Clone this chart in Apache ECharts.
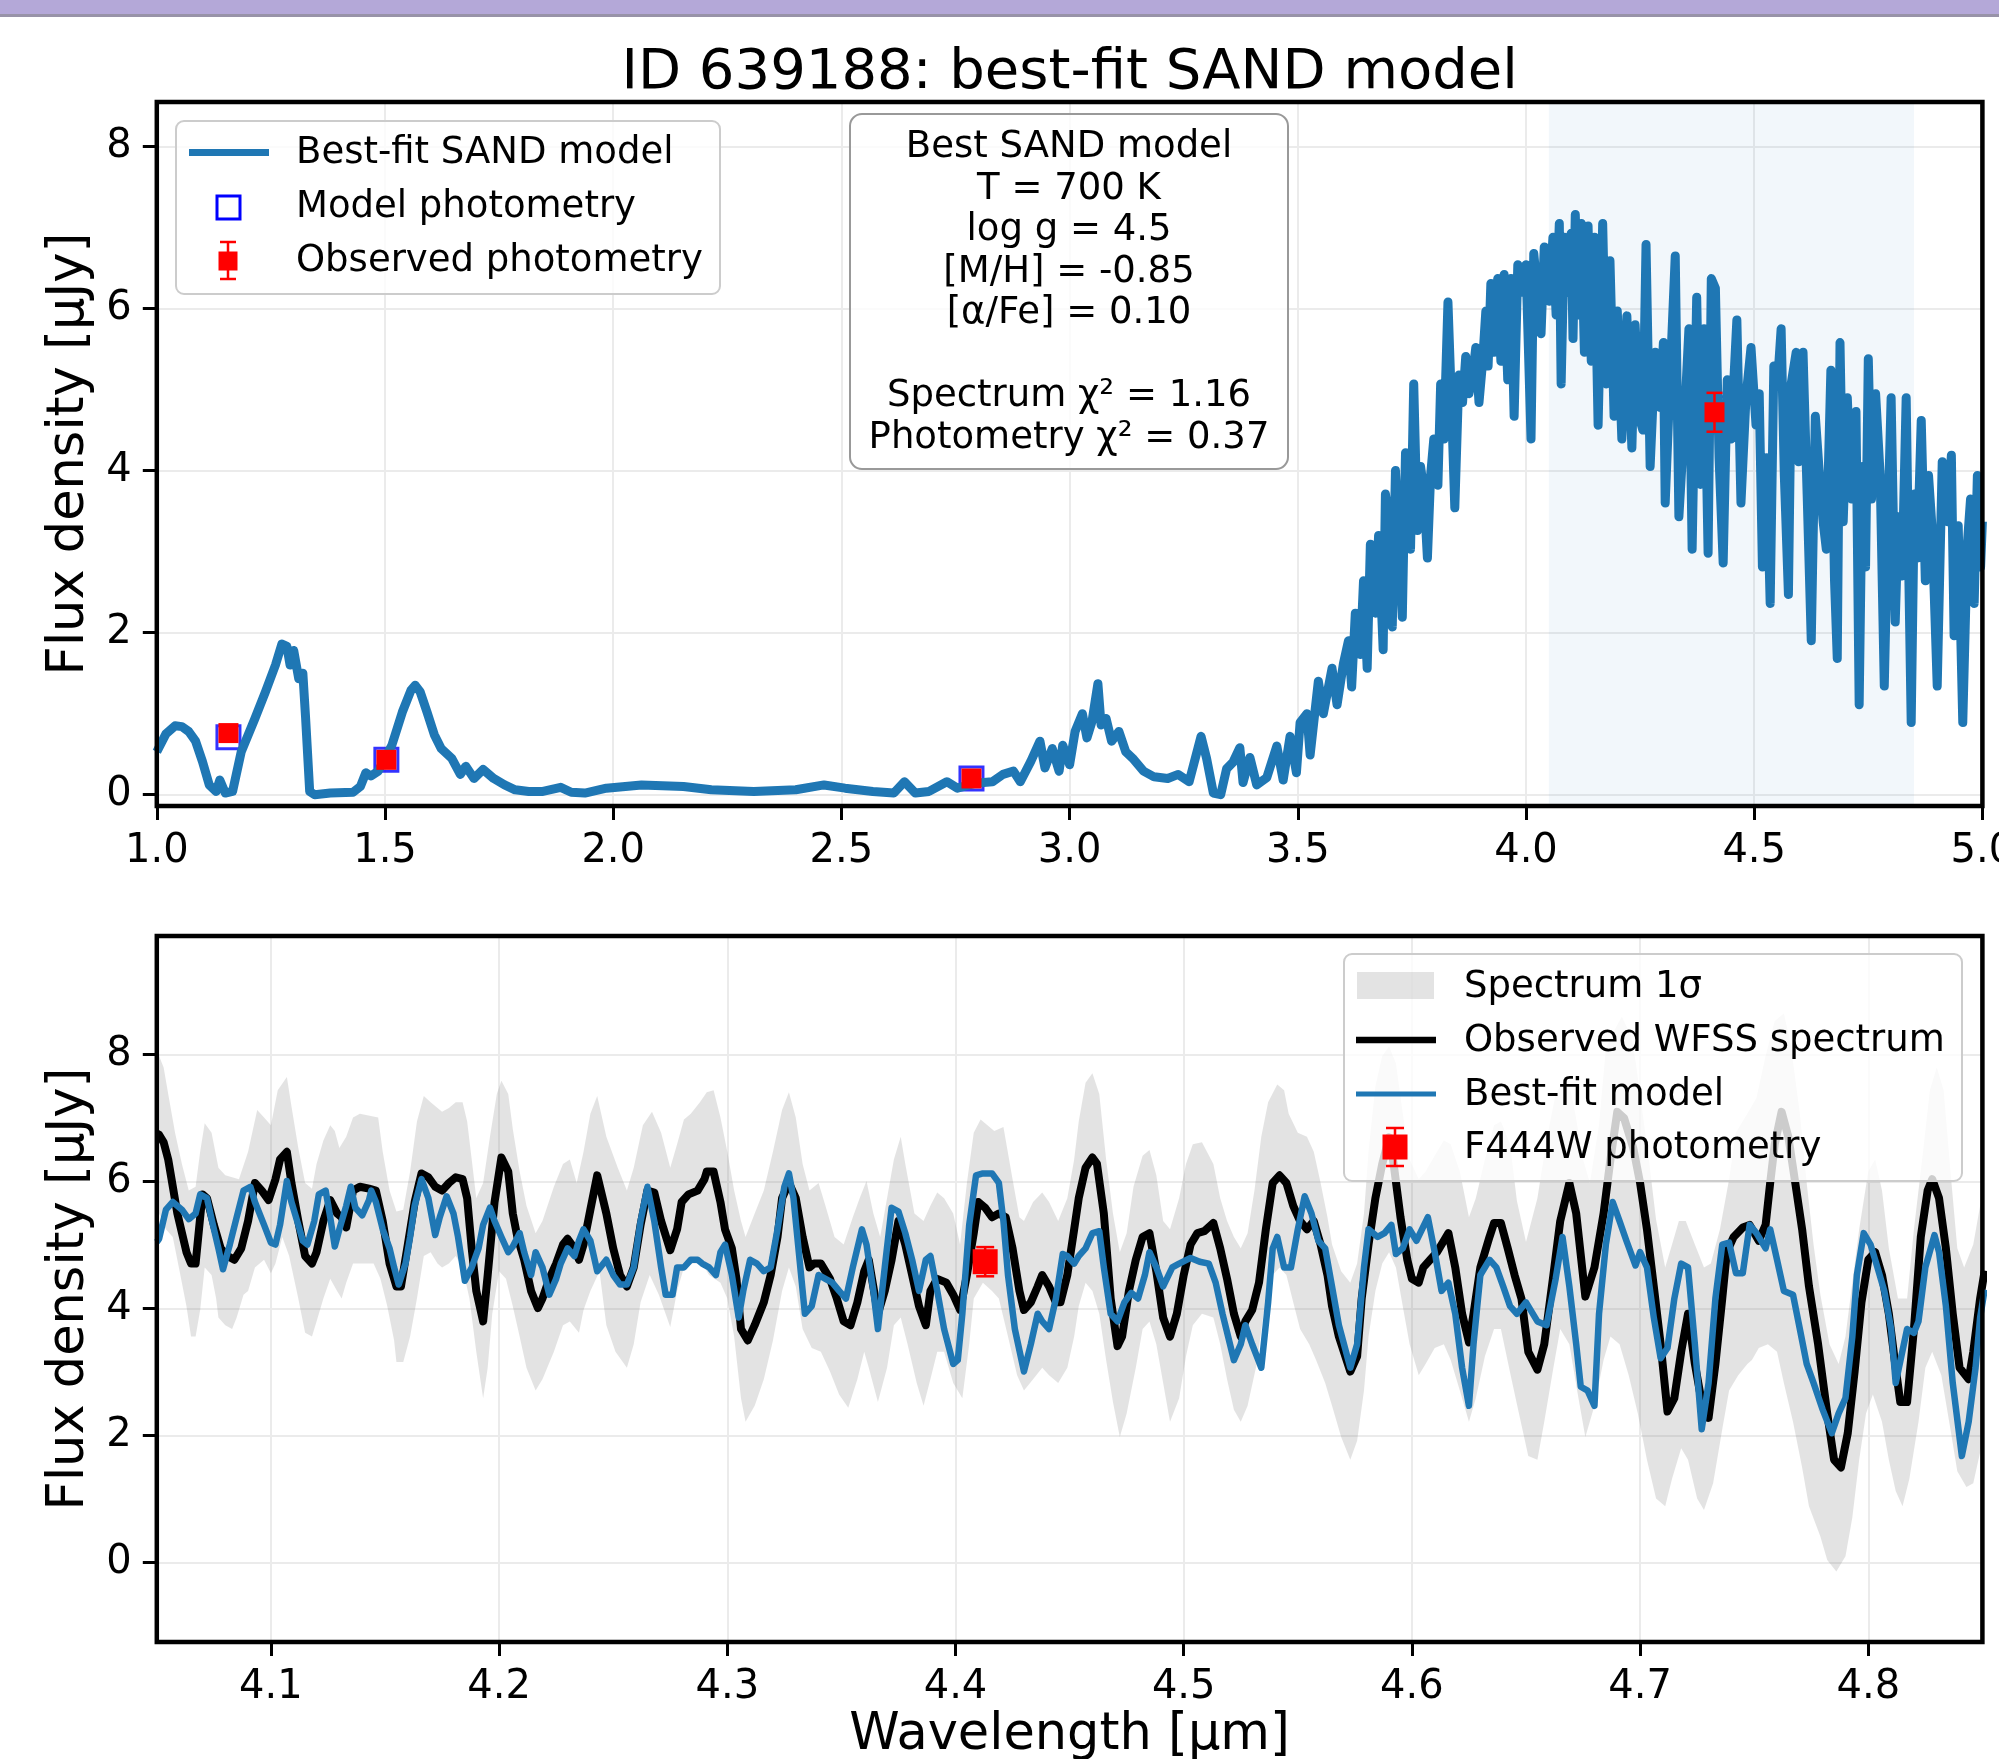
<!DOCTYPE html>
<html>
<head>
<meta charset="utf-8">
<title>ID 639188: best-fit SAND model</title>
<script src="https://cdn.jsdelivr.net/npm/echarts@6.0.0/dist/echarts.min.js"></script>
<style>
  html, body { margin: 0; padding: 0; background: #fff; }
  #chart { width: 1999px; height: 1759px; }
</style>
</head>
<body>
<div id="chart"></div>
<script>
// ---- data ----
// top panel: best-fit SAND model spectrum [wavelength um, flux uJy]
var sandModel = [
  [1.000,0.53],[1.020,0.75],[1.040,0.85],[1.055,0.84],[1.070,0.78],[1.085,0.66],[1.100,0.41],[1.115,0.12],[1.130,0.04],[1.138,0.18],
  [1.150,0.02],[1.166,0.04],[1.185,0.53],[1.215,0.94],[1.238,1.27],[1.260,1.60],[1.274,1.86],[1.285,1.83],[1.292,1.60],[1.300,1.78],
  [1.311,1.43],[1.320,1.50],[1.326,0.95],[1.335,0.04],[1.346,0.00],[1.380,0.02],[1.430,0.03],[1.446,0.10],[1.458,0.27],[1.469,0.23],
  [1.485,0.29],[1.515,0.61],[1.538,1.02],[1.557,1.29],[1.566,1.35],[1.577,1.27],[1.592,1.02],[1.608,0.74],[1.623,0.57],[1.646,0.45],
  [1.665,0.25],[1.677,0.35],[1.695,0.20],[1.715,0.31],[1.738,0.20],[1.762,0.12],[1.785,0.06],[1.815,0.04],[1.846,0.04],[1.885,0.09],
  [1.908,0.03],[1.938,0.02],[1.985,0.08],[2.062,0.12],[2.154,0.10],[2.215,0.06],[2.308,0.04],[2.400,0.06],[2.462,0.12],[2.508,0.08],
  [2.569,0.04],[2.615,0.02],[2.638,0.16],[2.662,0.02],[2.692,0.04],[2.731,0.16],[2.754,0.08],[2.792,0.14],[2.831,0.16],[2.854,0.25],
  [2.877,0.29],[2.892,0.16],[2.915,0.41],[2.935,0.66],[2.946,0.33],[2.962,0.57],[2.977,0.29],[2.985,0.61],[3.000,0.37],[3.012,0.78],
  [3.028,1.00],[3.038,0.70],[3.049,0.90],[3.062,1.37],[3.069,0.86],[3.080,0.94],[3.092,0.66],[3.108,0.78],[3.123,0.53],[3.138,0.45],
  [3.162,0.29],[3.185,0.22],[3.215,0.20],[3.238,0.25],[3.262,0.16],[3.288,0.72],[3.300,0.45],[3.315,0.02],[3.331,0.00],[3.344,0.32],
  [3.358,0.40],[3.373,0.58],[3.380,0.15],[3.395,0.46],[3.410,0.12],[3.432,0.21],[3.454,0.60],[3.468,0.18],[3.483,0.72],[3.497,0.27],
  [3.505,0.89],[3.520,1.00],[3.527,0.49],[3.545,1.40],[3.556,1.00],[3.575,1.56],[3.586,1.11],[3.600,1.62],[3.611,1.90],[3.618,1.33],
  [3.626,2.24],[3.637,1.73],[3.644,2.64],[3.652,1.56],[3.659,3.09],[3.670,2.24],[3.677,3.20],[3.687,1.79],[3.692,3.71],[3.700,3.37],
  [3.707,2.07],[3.714,4.00],[3.721,3.15],[3.729,2.19],[3.736,4.22],[3.743,3.65],[3.747,3.03],[3.754,5.07],[3.762,3.26],[3.769,4.05],
  [3.776,3.76],[3.784,2.92],[3.791,3.94],[3.798,4.39],[3.807,3.82],[3.813,5.07],[3.820,4.39],[3.829,6.08],[3.836,4.95],[3.844,3.54],
  [3.853,5.18],[3.861,4.84],[3.868,5.41],[3.875,4.95],[3.883,5.18],[3.890,5.52],[3.897,4.84],[3.905,5.35],[3.912,5.97],[3.917,5.29],
  [3.923,6.31],[3.930,5.46],[3.938,6.37],[3.945,5.35],[3.952,6.42],[3.960,5.12],[3.967,6.37],[3.974,4.67],[3.982,6.54],[3.993,6.20],
  [4.000,6.54],[4.011,4.39],[4.017,6.68],[4.026,6.14],[4.033,5.69],[4.040,6.76],[4.051,6.09],[4.059,6.88],[4.066,5.92],[4.073,7.05],
  [4.077,5.07],[4.084,6.88],[4.092,6.20],[4.099,6.93],[4.103,5.63],[4.108,7.16],[4.114,5.92],[4.121,7.05],[4.128,5.46],[4.136,7.02],
  [4.143,5.35],[4.150,6.88],[4.158,4.56],[4.168,7.05],[4.176,5.07],[4.184,6.59],[4.193,4.67],[4.200,5.97],[4.210,4.39],[4.221,5.91],
  [4.232,4.28],[4.239,5.80],[4.250,4.62],[4.256,4.50],[4.263,6.79],[4.272,4.05],[4.283,5.46],[4.294,4.78],[4.301,5.58],[4.305,3.60],
  [4.316,5.18],[4.327,6.65],[4.335,3.43],[4.346,4.50],[4.357,5.75],[4.364,3.03],[4.374,6.14],[4.382,3.83],[4.390,5.75],[4.399,2.98],
  [4.406,6.37],[4.415,6.25],[4.423,4.16],[4.432,2.86],[4.441,5.12],[4.449,4.39],[4.462,5.86],[4.471,3.60],[4.482,4.90],[4.493,5.52],
  [4.504,4.56],[4.511,4.95],[4.518,2.81],[4.527,4.16],[4.535,2.36],[4.543,5.29],[4.551,5.07],[4.559,5.75],[4.566,3.94],[4.575,2.47],
  [4.581,5.07],[4.592,5.46],[4.597,4.11],[4.607,5.46],[4.616,3.71],[4.625,1.90],[4.634,4.67],[4.643,3.94],[4.651,3.37],[4.658,3.03],
  [4.668,5.24],[4.676,2.64],[4.682,1.68],[4.688,5.58],[4.695,3.37],[4.704,4.90],[4.713,3.65],[4.723,4.73],[4.730,1.11],[4.737,4.05],
  [4.744,2.81],[4.750,5.38],[4.757,3.65],[4.766,4.95],[4.776,3.94],[4.785,1.34],[4.793,3.37],[4.800,4.90],[4.809,2.13],[4.816,3.43],
  [4.824,2.70],[4.833,4.90],[4.838,2.98],[4.844,0.89],[4.851,3.71],[4.857,2.92],[4.866,4.62],[4.875,2.64],[4.882,3.94],[4.890,3.26],
  [4.901,1.34],[4.912,4.11],[4.923,3.37],[4.932,4.19],[4.938,1.96],[4.947,3.32],[4.957,0.89],[4.967,3.09],[4.974,3.65],[4.982,2.36],
  [4.989,3.94],[4.996,2.81],[5.000,3.37]
];

// photometry (top panel)
var photWave  = [1.157, 1.503, 2.785, 4.413];
var photModel = [0.71, 0.43, 0.20, 4.77];
var photObs   = [0.76, 0.43, 0.20, 4.72];
var photErr   = [0.05, 0.04, 0.03, 0.24];

// fitted window shown in the zoom panel
var fitWindow = [4.05, 4.85];

// bottom panel: observed WFSS spectrum
var obsSpec = [
  [4.050,6.76],[4.051,6.74],[4.053,6.62],[4.055,6.35],[4.059,5.50],[4.063,4.89],[4.065,4.71],[4.067,4.71],[4.070,5.80],[4.072,5.74],
  [4.075,5.32],[4.078,4.95],[4.081,4.83],[4.084,4.77],[4.087,4.95],[4.090,5.38],[4.093,5.98],[4.096,5.86],[4.099,5.71],[4.102,6.04],
  [4.104,6.35],[4.107,6.47],[4.109,5.98],[4.112,5.38],[4.115,4.83],[4.118,4.71],[4.120,4.89],[4.123,5.38],[4.126,5.71],[4.129,5.50],
  [4.131,5.44],[4.133,5.28],[4.136,5.86],[4.139,5.92],[4.143,5.89],[4.146,5.86],[4.149,5.38],[4.152,4.71],[4.155,4.35],[4.157,4.35],
  [4.160,5.01],[4.163,5.68],[4.166,6.13],[4.169,6.07],[4.172,5.92],[4.175,5.86],[4.178,5.98],[4.181,6.07],[4.184,6.04],[4.186,5.74],
  [4.188,4.95],[4.190,4.28],[4.193,3.80],[4.195,4.53],[4.198,5.68],[4.201,6.38],[4.204,6.16],[4.206,5.50],[4.208,5.13],[4.211,4.77],
  [4.214,4.28],[4.217,4.01],[4.219,4.16],[4.222,4.47],[4.225,4.71],[4.228,5.01],[4.230,5.10],[4.233,4.95],[4.235,4.77],[4.237,5.01],
  [4.240,5.56],[4.243,6.10],[4.247,5.50],[4.250,4.95],[4.253,4.53],[4.256,4.35],[4.259,4.65],[4.262,5.32],[4.265,5.86],[4.268,5.83],
  [4.271,5.38],[4.275,4.92],[4.278,5.25],[4.280,5.68],[4.283,5.80],[4.287,5.86],[4.290,6.04],[4.291,6.16],[4.294,6.16],[4.297,5.68],
  [4.299,5.25],[4.302,4.95],[4.304,4.47],[4.306,3.68],[4.309,3.50],[4.312,3.74],[4.316,4.10],[4.319,4.53],[4.322,5.13],[4.324,5.74],
  [4.327,5.98],[4.330,5.74],[4.333,5.13],[4.336,4.65],[4.338,4.71],[4.341,4.71],[4.345,4.47],[4.348,4.16],[4.351,3.80],[4.354,3.74],
  [4.357,4.10],[4.360,4.59],[4.362,4.77],[4.366,3.92],[4.369,4.28],[4.372,4.77],[4.375,5.38],[4.378,5.01],[4.381,4.53],[4.384,4.04],
  [4.387,3.74],[4.389,4.28],[4.392,4.47],[4.396,4.41],[4.399,4.22],[4.402,3.98],[4.405,4.53],[4.408,5.19],[4.410,5.68],[4.413,5.59],
  [4.416,5.44],[4.419,5.50],[4.422,5.44],[4.425,4.95],[4.428,4.28],[4.430,3.98],[4.433,4.10],[4.436,4.35],[4.438,4.53],[4.441,4.35],
  [4.444,4.10],[4.446,4.10],[4.449,4.53],[4.452,5.25],[4.454,5.74],[4.457,6.22],[4.460,6.38],[4.462,6.28],[4.465,5.50],[4.468,4.16],
  [4.471,3.41],[4.473,3.56],[4.476,4.28],[4.479,4.77],[4.482,5.13],[4.485,5.19],[4.488,4.59],[4.491,3.86],[4.494,3.56],[4.497,3.92],
  [4.500,4.53],[4.503,5.01],[4.506,5.19],[4.509,5.22],[4.513,5.35],[4.516,4.95],[4.519,4.47],[4.522,3.92],[4.525,3.56],[4.527,3.80],
  [4.530,3.98],[4.533,4.41],[4.536,5.25],[4.539,5.98],[4.542,6.10],[4.545,5.98],[4.548,5.62],[4.551,5.38],[4.554,5.25],[4.557,5.38],
  [4.560,5.01],[4.563,4.53],[4.565,4.04],[4.568,3.56],[4.573,3.01],[4.576,3.25],[4.578,4.16],[4.581,5.01],[4.584,5.74],[4.587,6.28],
  [4.590,6.70],[4.592,6.28],[4.595,5.44],[4.598,4.77],[4.600,4.47],[4.603,4.41],[4.605,4.65],[4.608,4.77],[4.611,4.89],[4.614,5.07],
  [4.616,5.19],[4.619,4.65],[4.622,3.92],[4.625,3.47],[4.627,3.92],[4.630,4.65],[4.634,5.13],[4.636,5.35],[4.639,5.35],[4.642,4.95],
  [4.645,4.53],[4.648,4.16],[4.651,3.32],[4.655,3.04],[4.658,3.44],[4.662,4.53],[4.665,5.38],[4.669,5.98],[4.672,5.50],[4.676,4.19],
  [4.680,4.65],[4.684,5.50],[4.687,6.35],[4.690,7.10],[4.693,7.00],[4.697,6.53],[4.700,5.98],[4.703,5.25],[4.706,4.35],[4.709,3.44],
  [4.712,2.38],[4.715,2.59],[4.718,3.32],[4.721,3.92],[4.724,3.13],[4.727,2.53],[4.730,2.28],[4.733,3.13],[4.736,4.16],[4.738,4.89],
  [4.741,5.13],[4.745,5.28],[4.748,5.32],[4.752,5.07],[4.755,5.32],[4.757,5.98],[4.759,6.59],[4.762,7.10],[4.765,6.70],[4.768,5.98],
  [4.771,5.25],[4.774,4.35],[4.778,3.44],[4.782,2.35],[4.785,1.62],[4.788,1.50],[4.791,2.04],[4.794,3.01],[4.797,4.10],[4.800,4.77],
  [4.803,4.89],[4.806,4.53],[4.809,3.92],[4.812,3.07],[4.814,2.53],[4.817,2.53],[4.820,3.68],[4.823,5.13],[4.826,5.86],[4.828,6.04],
  [4.831,5.74],[4.834,4.95],[4.837,3.92],[4.840,3.07],[4.844,2.89],[4.846,3.32],[4.849,4.16],[4.851,4.60]
];

// bottom panel: best-fit model resampled to the grism
var fitSpec = [
  [4.050,5.05],[4.051,5.10],[4.054,5.56],[4.057,5.68],[4.061,5.56],[4.064,5.41],[4.067,5.50],[4.069,5.80],[4.072,5.74],[4.074,5.41],
  [4.077,4.95],[4.079,4.62],[4.082,5.01],[4.085,5.44],[4.088,5.86],[4.091,5.92],[4.093,5.68],[4.097,5.32],[4.100,5.04],[4.102,5.01],
  [4.104,5.32],[4.107,6.01],[4.109,5.68],[4.112,5.32],[4.114,5.07],[4.116,5.01],[4.119,5.38],[4.121,5.80],[4.124,5.86],[4.126,5.44],
  [4.128,4.98],[4.130,5.25],[4.133,5.62],[4.135,5.92],[4.137,5.59],[4.140,5.47],[4.143,5.71],[4.144,5.86],[4.146,5.68],[4.149,5.25],
  [4.152,4.95],[4.154,4.65],[4.156,4.38],[4.159,4.71],[4.161,5.13],[4.163,5.62],[4.166,6.04],[4.169,5.74],[4.172,5.16],[4.174,5.44],
  [4.177,5.77],[4.180,5.50],[4.182,5.13],[4.185,4.44],[4.188,4.65],[4.191,4.95],[4.193,5.32],[4.196,5.59],[4.198,5.38],[4.201,5.13],
  [4.204,4.89],[4.206,4.98],[4.209,5.19],[4.211,4.89],[4.214,4.53],[4.216,4.89],[4.219,4.65],[4.222,4.22],[4.225,4.47],[4.227,4.71],
  [4.230,4.95],[4.233,4.83],[4.235,5.07],[4.237,5.25],[4.240,5.07],[4.243,4.59],[4.247,4.77],[4.250,4.53],[4.253,4.38],[4.256,4.38],
  [4.259,4.65],[4.262,5.38],[4.265,5.92],[4.268,5.38],[4.271,4.65],[4.273,4.22],[4.276,4.22],[4.278,4.65],[4.281,4.65],[4.284,4.77],
  [4.287,4.77],[4.289,4.71],[4.292,4.65],[4.295,4.53],[4.297,4.89],[4.299,5.01],[4.302,4.53],[4.305,3.86],[4.307,4.28],[4.310,4.77],
  [4.313,4.71],[4.316,4.59],[4.319,4.65],[4.322,5.25],[4.325,5.92],[4.327,6.13],[4.329,5.74],[4.332,4.65],[4.334,3.92],[4.337,4.04],
  [4.340,4.53],[4.343,4.47],[4.346,4.41],[4.349,4.28],[4.352,4.16],[4.355,4.65],[4.359,5.25],[4.361,5.01],[4.364,4.28],[4.366,3.68],
  [4.369,4.65],[4.372,5.59],[4.375,5.53],[4.378,5.19],[4.381,4.77],[4.384,4.28],[4.387,4.77],[4.389,4.83],[4.392,4.28],[4.395,3.68],
  [4.399,3.13],[4.401,3.19],[4.403,3.92],[4.406,5.32],[4.409,6.10],[4.412,6.13],[4.416,6.13],[4.419,5.98],[4.421,5.38],[4.423,4.53],
  [4.426,3.68],[4.430,3.01],[4.433,3.44],[4.436,3.92],[4.438,3.80],[4.441,3.68],[4.444,4.16],[4.447,4.86],[4.449,4.83],[4.452,4.71],
  [4.454,4.83],[4.457,4.95],[4.460,5.19],[4.463,5.22],[4.465,4.65],[4.468,3.92],[4.471,3.80],[4.474,4.10],[4.477,4.25],[4.480,4.16],
  [4.483,4.53],[4.485,4.89],[4.488,4.65],[4.491,4.35],[4.495,4.65],[4.498,4.71],[4.503,4.80],[4.507,4.74],[4.511,4.71],[4.514,4.41],
  [4.517,3.92],[4.522,3.19],[4.525,3.44],[4.527,3.74],[4.530,3.44],[4.534,3.07],[4.537,4.10],[4.539,4.95],[4.541,5.13],[4.544,4.65],
  [4.547,4.65],[4.550,5.25],[4.553,5.77],[4.556,5.50],[4.559,5.07],[4.562,4.95],[4.565,4.35],[4.568,3.74],[4.573,3.07],[4.576,3.44],
  [4.579,4.65],[4.581,5.25],[4.585,5.13],[4.588,5.19],[4.591,5.32],[4.593,4.86],[4.596,4.95],[4.599,5.25],[4.602,5.07],[4.607,5.44],
  [4.610,4.89],[4.613,4.28],[4.616,4.41],[4.619,3.92],[4.622,3.07],[4.625,2.47],[4.627,3.44],[4.630,4.53],[4.634,4.77],[4.637,4.65],
  [4.640,4.35],[4.643,4.04],[4.646,3.92],[4.650,4.10],[4.655,3.80],[4.659,3.74],[4.663,4.47],[4.666,5.13],[4.669,4.35],[4.672,3.44],
  [4.674,2.77],[4.677,2.71],[4.680,2.47],[4.682,3.92],[4.685,5.01],[4.688,5.68],[4.691,5.38],[4.694,5.07],[4.698,4.68],[4.700,4.89],
  [4.703,4.65],[4.706,3.86],[4.709,3.22],[4.712,3.38],[4.715,4.16],[4.718,4.71],[4.721,4.65],[4.724,3.44],[4.727,2.10],[4.730,2.83],
  [4.733,4.16],[4.736,5.01],[4.739,5.04],[4.742,4.56],[4.745,4.56],[4.748,5.32],[4.751,5.19],[4.755,4.95],[4.757,5.25],[4.760,4.77],
  [4.763,4.28],[4.767,4.22],[4.770,3.68],[4.773,3.13],[4.776,2.83],[4.780,2.41],[4.784,2.04],[4.787,2.35],[4.790,2.59],[4.793,3.56],
  [4.795,4.53],[4.798,5.19],[4.801,5.01],[4.804,4.65],[4.807,4.28],[4.810,3.68],[4.812,2.83],[4.817,3.68],[4.820,3.62],[4.822,3.80],
  [4.825,4.65],[4.829,5.16],[4.831,4.89],[4.834,4.04],[4.837,2.83],[4.841,1.68],[4.844,2.22],[4.847,3.07],[4.849,3.86],[4.851,4.30]
];

// bottom panel: 1-sigma envelope of the observed spectrum
var sigmaUpper = [
  [4.050,8.00],[4.051,7.98],[4.053,7.80],[4.055,7.38],[4.058,6.77],[4.061,6.28],[4.064,5.86],[4.067,5.92],[4.069,6.47],[4.071,6.92],
  [4.074,6.77],[4.077,6.22],[4.080,6.10],[4.086,6.04],[4.090,6.47],[4.094,7.13],[4.097,7.01],[4.100,6.89],[4.103,7.44],[4.107,7.65],
  [4.109,7.19],[4.112,6.53],[4.115,5.98],[4.118,5.89],[4.120,6.28],[4.123,6.65],[4.126,6.89],[4.128,6.80],[4.130,6.53],[4.133,6.71],
  [4.136,7.01],[4.139,7.07],[4.147,7.01],[4.149,6.47],[4.152,5.86],[4.155,5.53],[4.158,5.56],[4.161,6.16],[4.164,6.95],[4.167,7.35],
  [4.170,7.25],[4.175,7.10],[4.178,7.16],[4.181,7.25],[4.184,7.25],[4.186,6.95],[4.188,6.35],[4.190,5.74],[4.193,5.98],[4.196,6.71],
  [4.199,7.38],[4.201,7.59],[4.204,7.38],[4.206,6.83],[4.209,6.16],[4.212,5.62],[4.216,5.19],[4.219,5.38],[4.224,5.92],[4.228,6.28],
  [4.231,6.35],[4.234,5.98],[4.237,6.47],[4.240,7.07],[4.243,7.35],[4.247,6.71],[4.252,6.22],[4.256,5.86],[4.259,6.22],[4.263,6.89],
  [4.267,7.10],[4.271,6.77],[4.275,6.22],[4.278,6.59],[4.281,6.98],[4.284,7.07],[4.288,7.25],[4.291,7.41],[4.294,7.44],[4.297,7.01],
  [4.300,6.47],[4.303,5.86],[4.306,5.38],[4.308,5.13],[4.312,5.50],[4.316,5.86],[4.320,6.47],[4.324,7.13],[4.327,7.41],[4.330,7.01],
  [4.333,6.28],[4.336,5.86],[4.340,5.98],[4.343,5.62],[4.347,5.13],[4.351,5.01],[4.355,5.44],[4.358,5.74],[4.361,6.01],[4.364,5.50],
  [4.367,5.13],[4.370,5.74],[4.373,6.35],[4.376,6.71],[4.378,6.28],[4.382,5.50],[4.386,5.38],[4.389,5.62],[4.392,5.83],[4.395,5.74],
  [4.399,5.50],[4.402,5.01],[4.405,5.98],[4.408,6.77],[4.411,6.98],[4.414,6.89],[4.417,6.80],[4.421,6.86],[4.425,6.04],[4.428,5.44],
  [4.430,5.38],[4.434,5.68],[4.438,5.83],[4.441,5.68],[4.445,5.38],[4.449,5.74],[4.452,6.35],[4.454,6.95],[4.457,7.56],[4.460,7.71],
  [4.463,7.38],[4.466,6.35],[4.469,5.50],[4.472,4.89],[4.475,5.19],[4.478,5.92],[4.482,6.41],[4.485,6.50],[4.488,6.10],[4.491,5.38],
  [4.494,5.25],[4.498,5.74],[4.501,6.28],[4.504,6.59],[4.508,6.62],[4.513,6.28],[4.516,5.74],[4.519,5.38],[4.522,5.13],[4.525,4.95],
  [4.528,5.19],[4.531,5.86],[4.534,6.71],[4.537,7.25],[4.541,7.53],[4.544,7.44],[4.546,7.07],[4.550,6.77],[4.554,6.71],[4.557,6.47],
  [4.560,5.98],[4.563,5.44],[4.565,5.01],[4.569,4.59],[4.573,4.41],[4.576,4.71],[4.579,5.50],[4.581,6.47],[4.584,7.50],[4.587,7.98],
  [4.590,8.13],[4.593,7.86],[4.596,7.07],[4.599,6.35],[4.603,6.04],[4.606,6.16],[4.610,6.41],[4.614,6.65],[4.617,6.59],[4.621,6.16],
  [4.625,5.44],[4.628,5.74],[4.632,6.35],[4.636,6.89],[4.639,6.95],[4.643,6.59],[4.646,5.70],[4.650,5.05],[4.655,5.74],[4.659,6.65],
  [4.663,7.38],[4.668,7.68],[4.671,7.19],[4.675,6.35],[4.678,5.98],[4.682,6.89],[4.685,8.10],[4.689,8.40],[4.692,8.60],[4.696,8.30],
  [4.698,7.90],[4.701,7.10],[4.704,6.30],[4.707,5.40],[4.711,4.65],[4.714,5.01],[4.717,5.38],[4.720,5.38],[4.724,5.01],[4.728,4.65],
  [4.731,4.71],[4.735,5.25],[4.739,6.04],[4.742,6.77],[4.747,7.07],[4.751,7.32],[4.755,7.98],[4.759,8.53],[4.763,8.65],[4.766,8.16],
  [4.770,7.07],[4.773,5.98],[4.776,5.01],[4.779,4.22],[4.783,3.44],[4.787,3.13],[4.790,3.56],[4.793,4.41],[4.796,5.25],[4.800,6.16],
  [4.803,6.35],[4.806,5.86],[4.809,4.95],[4.813,4.16],[4.817,4.16],[4.820,5.25],[4.824,6.47],[4.827,7.44],[4.830,7.80],[4.833,7.44],
  [4.836,6.16],[4.839,4.95],[4.842,4.65],[4.846,5.01],[4.849,5.62],[4.851,5.90]
];
var sigmaLower = [
  [4.050,5.52],[4.051,5.50],[4.054,5.25],[4.057,5.13],[4.060,4.59],[4.063,4.04],[4.065,3.56],[4.067,3.56],[4.069,3.98],[4.071,4.65],
  [4.074,4.53],[4.076,4.16],[4.077,3.86],[4.080,3.74],[4.083,3.68],[4.085,3.86],[4.088,4.22],[4.090,4.28],[4.093,4.65],[4.097,4.77],
  [4.100,4.56],[4.102,4.71],[4.105,5.13],[4.108,4.83],[4.112,4.16],[4.115,3.62],[4.118,3.56],[4.120,3.80],[4.123,4.16],[4.126,4.47],
  [4.129,4.28],[4.131,4.16],[4.133,4.41],[4.136,4.71],[4.145,4.71],[4.148,4.47],[4.151,4.04],[4.154,3.50],[4.155,3.16],[4.158,3.16],
  [4.161,3.56],[4.164,4.16],[4.167,4.83],[4.170,4.89],[4.173,4.71],[4.175,4.65],[4.178,4.71],[4.181,4.83],[4.184,4.65],[4.187,4.16],
  [4.190,3.32],[4.193,2.59],[4.195,3.07],[4.197,3.92],[4.200,4.59],[4.203,4.47],[4.206,4.04],[4.209,3.56],[4.212,3.07],[4.216,2.71],
  [4.219,2.89],[4.224,3.32],[4.228,3.74],[4.231,3.80],[4.235,3.62],[4.237,3.98],[4.240,4.28],[4.244,4.59],[4.247,3.74],[4.251,3.32],
  [4.256,3.07],[4.259,3.44],[4.262,4.10],[4.266,4.53],[4.270,4.22],[4.275,3.71],[4.278,4.28],[4.281,4.65],[4.285,4.71],[4.289,4.71],
  [4.292,4.53],[4.297,4.41],[4.300,4.16],[4.303,3.56],[4.306,2.59],[4.308,2.22],[4.312,2.47],[4.316,2.89],[4.320,3.50],[4.324,4.28],
  [4.327,4.65],[4.330,4.35],[4.333,3.68],[4.337,3.38],[4.341,3.32],[4.345,3.01],[4.349,2.65],[4.353,2.44],[4.357,2.89],[4.360,3.32],
  [4.362,3.07],[4.366,2.53],[4.370,3.07],[4.373,3.74],[4.376,3.86],[4.379,3.44],[4.383,2.83],[4.386,2.47],[4.389,2.89],[4.392,3.32],
  [4.395,3.32],[4.399,2.83],[4.403,2.59],[4.406,3.44],[4.408,4.16],[4.412,4.41],[4.416,4.28],[4.419,4.16],[4.423,3.56],[4.427,2.95],
  [4.430,2.71],[4.434,2.89],[4.438,3.07],[4.441,2.95],[4.445,2.83],[4.449,3.07],[4.452,3.56],[4.454,4.04],[4.457,4.41],[4.460,4.28],
  [4.463,3.92],[4.466,3.19],[4.469,2.53],[4.472,1.98],[4.475,2.35],[4.479,3.07],[4.482,3.68],[4.485,3.80],[4.488,3.44],[4.491,2.83],
  [4.494,2.22],[4.498,2.59],[4.501,3.25],[4.504,3.74],[4.508,3.92],[4.513,3.86],[4.516,3.44],[4.519,2.89],[4.522,2.41],[4.525,2.22],
  [4.528,2.47],[4.532,3.13],[4.535,3.92],[4.539,4.53],[4.542,4.65],[4.545,4.53],[4.548,4.10],[4.551,3.68],[4.555,3.44],[4.558,3.19],
  [4.562,2.83],[4.565,2.47],[4.569,1.98],[4.573,1.62],[4.576,1.92],[4.579,2.71],[4.581,3.56],[4.584,4.28],[4.587,4.71],[4.590,4.89],
  [4.593,4.65],[4.596,4.04],[4.599,3.44],[4.603,2.95],[4.606,3.13],[4.610,3.38],[4.614,3.44],[4.617,3.19],[4.621,2.71],[4.625,2.22],
  [4.628,2.59],[4.632,3.25],[4.636,3.68],[4.639,3.68],[4.643,3.00],[4.646,2.50],[4.651,1.68],[4.655,1.62],[4.658,2.22],[4.662,3.07],
  [4.665,3.68],[4.669,3.44],[4.673,2.59],[4.676,1.98],[4.680,2.47],[4.684,3.19],[4.687,3.56],[4.691,3.44],[4.695,2.95],[4.699,2.35],
  [4.703,1.62],[4.707,1.01],[4.711,0.89],[4.714,1.32],[4.718,1.80],[4.721,1.62],[4.725,1.01],[4.728,0.83],[4.732,1.25],[4.736,2.10],
  [4.739,2.71],[4.743,2.95],[4.747,3.13],[4.749,3.19],[4.752,3.38],[4.756,3.44],[4.760,3.32],[4.763,2.83],[4.767,2.22],[4.771,1.50],
  [4.774,0.89],[4.779,0.41],[4.782,0.04],[4.786,-0.14],[4.790,0.10],[4.793,0.71],[4.796,1.62],[4.799,2.35],[4.802,2.65],[4.806,2.22],
  [4.809,1.62],[4.812,1.13],[4.815,0.89],[4.818,1.32],[4.822,2.22],[4.825,3.07],[4.828,3.32],[4.832,2.95],[4.836,2.10],[4.839,1.44],
  [4.843,1.19],[4.846,1.25],[4.849,1.74],[4.851,2.00]
];

// F444W photometry in the zoom panel: [wavelength, flux, error]
var f444w = [[4.413, 4.74, 0.23]];

// axis ticks
var topXTicks = [1.0, 1.5, 2.0, 2.5, 3.0, 3.5, 4.0, 4.5, 5.0];
var fluxTicks = [0, 2, 4, 6, 8];
var zoomXTicks = [4.1, 4.2, 4.3, 4.4, 4.5, 4.6, 4.7, 4.8];

// fit summary box
var fitSummary = [
  'Best SAND model', 'T = 700 K', 'log g = 4.5', '[M/H] = -0.85', '[α/Fe] = 0.10', '',
  'Spectrum χ² = 1.16', 'Photometry χ² = 0.37'
];

// ---- styling ----
var FONT = 'DejaVu Sans';
var BLUE = '#1f77b4';
var RED = '#ff0000';
var GRID_LINE = '#ebebeb';
var TOP = { left: 156.8, top: 102, width: 1825.6, height: 704 };
var BOT = { left: 156.8, top: 936, width: 1825.6, height: 706 };

function xAxisOf(gridIndex, min, max, ticks, name) {
  return {
    type: 'value', gridIndex: gridIndex, min: min, max: max,
    name: name || '', nameLocation: 'middle', nameGap: 68,
    nameTextStyle: { fontSize: 51, fontFamily: FONT, color: '#000' },
    axisLine: { show: false, onZero: false },
    axisTick: { show: true, customValues: ticks, length: 14, lineStyle: { color: '#000', width: 3 } },
    axisLabel: { customValues: ticks, fontSize: 40, fontFamily: FONT, color: '#000', margin: 26,
                 formatter: function (v) { return v.toFixed(1); } },
    splitLine: { show: true, lineStyle: { color: GRID_LINE, width: 2 } }
  };
}
function yAxisOf(gridIndex, min, max) {
  return {
    type: 'value', gridIndex: gridIndex, min: min, max: max,
    name: 'Flux density [μJy]', nameLocation: 'middle', nameGap: 58,
    nameTextStyle: { fontSize: 51, fontFamily: FONT, color: '#000' },
    axisLine: { show: false, onZero: false },
    axisTick: { show: true, customValues: fluxTicks, length: 14, lineStyle: { color: '#000', width: 3 } },
    axisLabel: { customValues: fluxTicks, fontSize: 40, fontFamily: FONT, color: '#000', margin: 25 },
    splitLine: { show: true, lineStyle: { color: GRID_LINE, width: 2 } }
  };
}

// red square with vertical error bar, drawn through the axis scales
function errorBar(size, capW) {
  return function (params, api) {
    var x = api.value(0), y = api.value(1), e = api.value(2);
    var c = api.coord([x, y]), hi = api.coord([x, y + e]), lo = api.coord([x, y - e]);
    var st = { stroke: RED, lineWidth: 2.5 };
    return {
      type: 'group',
      children: [
        { type: 'line', shape: { x1: c[0], y1: hi[1], x2: c[0], y2: lo[1] }, style: st },
        { type: 'line', shape: { x1: c[0] - capW / 2, y1: hi[1], x2: c[0] + capW / 2, y2: hi[1] }, style: st },
        { type: 'line', shape: { x1: c[0] - capW / 2, y1: lo[1], x2: c[0] + capW / 2, y2: lo[1] }, style: st },
        { type: 'rect', shape: { x: c[0] - size / 2, y: c[1] - size / 2, width: size, height: size }, style: { fill: RED } }
      ]
    };
  };
}

function sigmaBand(params, api) {
  var pts = [];
  for (var i = 0; i < sigmaUpper.length; i++) pts.push(api.coord(sigmaUpper[i]));
  for (var j = sigmaLower.length - 1; j >= 0; j--) pts.push(api.coord(sigmaLower[j]));
  return { type: 'polygon', shape: { points: pts }, style: { fill: 'rgba(128,128,128,0.22)' } };
}

function txt(x, y, s, size, align) {
  return { type: 'text', z: 110, style: { x: x, y: y, text: s, fontSize: size || 37, fontFamily: FONT,
           fill: '#000', align: align || 'left', verticalAlign: 'middle' } };
}
function hline(x1, x2, y, color, w) {
  return { type: 'line', z: 110, shape: { x1: x1, y1: y, x2: x2, y2: y }, style: { stroke: color, lineWidth: w } };
}
function legendBar(cx, cy, size, top, bottom, capW) {
  var st = { stroke: RED, lineWidth: 2.5 };
  return [
    { type: 'line', z: 110, shape: { x1: cx, y1: top, x2: cx, y2: bottom }, style: st },
    { type: 'line', z: 110, shape: { x1: cx - capW / 2, y1: top, x2: cx + capW / 2, y2: top }, style: st },
    { type: 'line', z: 110, shape: { x1: cx - capW / 2, y1: bottom, x2: cx + capW / 2, y2: bottom }, style: st },
    { type: 'rect', z: 110, shape: { x: cx - size / 2, y: cy - size / 2, width: size, height: size }, style: { fill: RED } }
  ];
}

var graphics = [
  // page header strip
  { type: 'rect', shape: { x: 0, y: 0, width: 1999, height: 14 }, style: { fill: '#b4a8d8' } },
  { type: 'rect', shape: { x: 0, y: 14, width: 1999, height: 3 }, style: { fill: '#9893a8' } },
  // axes frames
  { type: 'rect', z: 100, shape: { x: TOP.left, y: TOP.top, width: TOP.width, height: TOP.height }, style: { fill: null, stroke: '#000', lineWidth: 4.5 } },
  { type: 'rect', z: 100, shape: { x: BOT.left, y: BOT.top, width: BOT.width, height: BOT.height }, style: { fill: null, stroke: '#000', lineWidth: 4.5 } },
  // top legend
  { type: 'rect', z: 105, shape: { x: 176, y: 121, width: 544, height: 173, r: 8 }, style: { fill: 'rgba(255,255,255,0.8)', stroke: '#cccccc', lineWidth: 2 } },
  hline(189, 269, 152.5, BLUE, 7),
  txt(296, 153, 'Best-fit SAND model'),
  { type: 'rect', z: 110, shape: { x: 217, y: 196, width: 23, height: 23 }, style: { fill: null, stroke: '#0000ff', lineWidth: 3 } },
  txt(296, 207, 'Model photometry'),
  txt(296, 261, 'Observed photometry'),
  // fit summary
  { type: 'rect', z: 105, shape: { x: 850, y: 114, width: 438, height: 355, r: 12 }, style: { fill: 'rgba(255,255,255,0.8)', stroke: '#999999', lineWidth: 2 } },
  { type: 'text', z: 110, style: { x: 1069, y: 293, text: fitSummary.join('\n'), fontSize: 37, fontFamily: FONT,
           fill: '#000', align: 'center', verticalAlign: 'middle', lineHeight: 41.5 } },
  // bottom legend
  { type: 'rect', z: 105, shape: { x: 1344, y: 954, width: 618, height: 227, r: 8 }, style: { fill: 'rgba(255,255,255,0.8)', stroke: '#cccccc', lineWidth: 2 } },
  { type: 'rect', z: 110, shape: { x: 1357, y: 972, width: 77, height: 27 }, style: { fill: 'rgba(128,128,128,0.22)' } },
  txt(1464, 987.5, 'Spectrum 1σ'),
  hline(1356, 1436, 1040, '#000', 6.5),
  txt(1464, 1041.5, 'Observed WFSS spectrum'),
  hline(1356, 1436, 1094, BLUE, 5),
  txt(1464, 1095.5, 'Best-fit model'),
  txt(1464, 1148.5, 'F444W photometry')
].concat(legendBar(228, 261, 19, 242, 279, 16)).concat(legendBar(1395, 1147, 25, 1128, 1166, 18));

var option = {
  animation: false,
  backgroundColor: '#ffffff',
  title: {
    text: 'ID 639188: best-fit SAND model',
    left: 1069.6, top: 45, textAlign: 'center', padding: 0,
    textStyle: { fontSize: 56, fontWeight: 'normal', fontFamily: FONT, color: '#000' }
  },
  grid: [
    { left: TOP.left, top: TOP.top, width: TOP.width, height: TOP.height, outerBoundsMode: 'none' },
    { left: BOT.left, top: BOT.top, width: BOT.width, height: BOT.height, outerBoundsMode: 'none' }
  ],
  xAxis: [
    xAxisOf(0, 1.0, 5.0, topXTicks),
    xAxisOf(1, fitWindow[0], fitWindow[1], zoomXTicks, 'Wavelength [μm]')
  ],
  yAxis: [
    yAxisOf(0, -0.14, 8.55),
    yAxisOf(1, -1.25, 9.87)
  ],
  graphic: graphics,
  series: [
    { name: 'fit window', type: 'line', xAxisIndex: 0, yAxisIndex: 0, data: [], z: 0, silent: true,
      markArea: { silent: true, itemStyle: { color: 'rgba(31,119,180,0.06)' },
                  data: [[{ xAxis: fitWindow[0] }, { xAxis: fitWindow[1] }]] } },
    { name: 'Model photometry', type: 'scatter', xAxisIndex: 0, yAxisIndex: 0, z: 1,
      data: photWave.map(function (w, i) { return [w, photModel[i]]; }),
      symbol: 'rect', symbolSize: 23,
      itemStyle: { color: 'rgba(0,0,0,0)', borderColor: '#0000ff', borderWidth: 3 } },
    { name: 'Best-fit SAND model', type: 'line', xAxisIndex: 0, yAxisIndex: 0, z: 2,
      data: sandModel, symbol: 'none',
      lineStyle: { color: BLUE, width: 9, join: 'round' } },
    { name: 'Observed photometry', type: 'custom', xAxisIndex: 0, yAxisIndex: 0, z: 4,
      data: photWave.map(function (w, i) { return [w, photObs[i], photErr[i]]; }),
      renderItem: errorBar(20, 16) },

    { name: 'Spectrum 1σ', type: 'custom', xAxisIndex: 1, yAxisIndex: 1, z: 1, clip: true,
      data: [0], renderItem: sigmaBand },
    { name: 'Observed WFSS spectrum', type: 'line', xAxisIndex: 1, yAxisIndex: 1, z: 2,
      data: obsSpec, symbol: 'none', lineStyle: { color: '#000', width: 8, join: 'round' } },
    { name: 'Best-fit model', type: 'line', xAxisIndex: 1, yAxisIndex: 1, z: 3,
      data: fitSpec, symbol: 'none', lineStyle: { color: BLUE, width: 6.5, join: 'round' } },
    { name: 'F444W photometry', type: 'custom', xAxisIndex: 1, yAxisIndex: 1, z: 4,
      data: f444w, renderItem: errorBar(25, 18) }
  ]
};

var chart = echarts.init(document.getElementById('chart'), null, { renderer: 'canvas' });
chart.setOption(option);
</script>
</body>
</html>
